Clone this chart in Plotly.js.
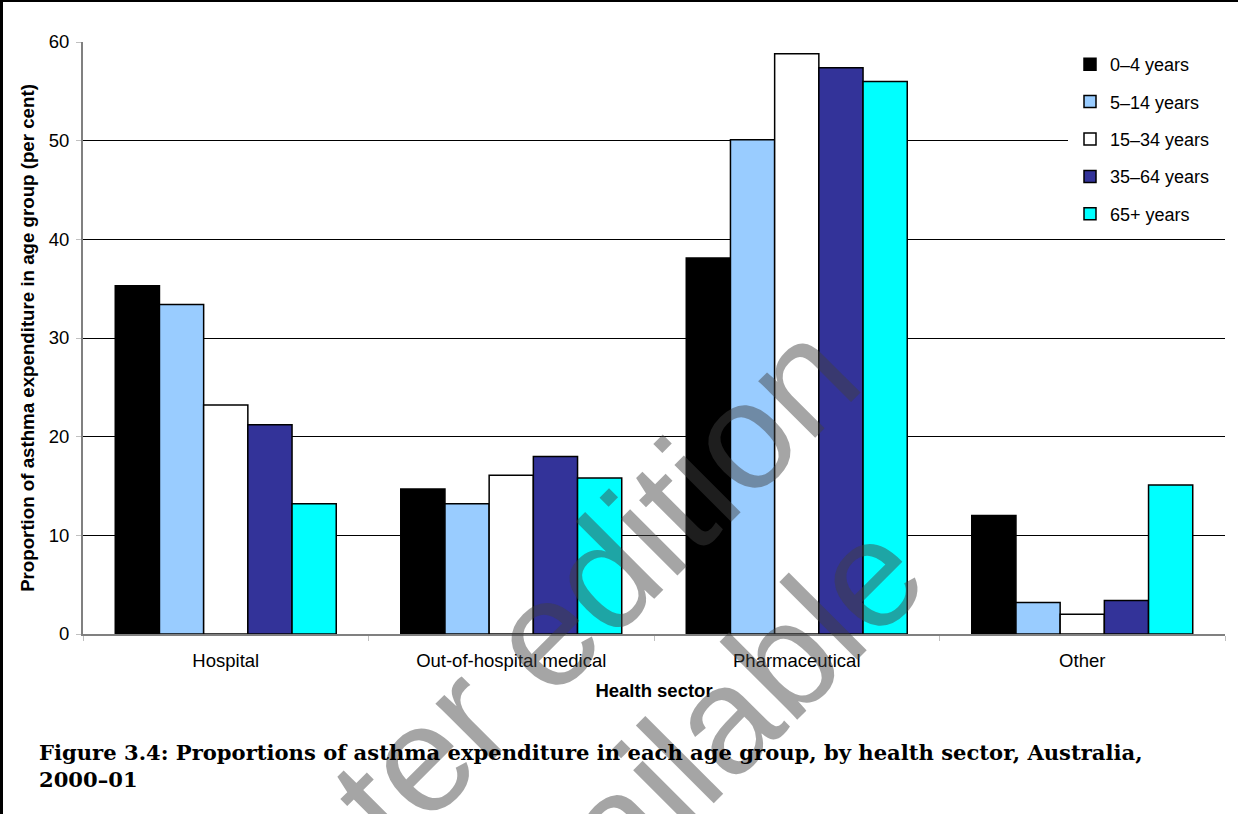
<!DOCTYPE html>
<html>
<head>
<meta charset="utf-8">
<script src="https://cdn.plot.ly/plotly-3.0.1.min.js"></script>
<style>
html,body{margin:0;padding:0;background:#fff;}
#chart{width:1238px;height:814px;}
</style>
</head>
<body>
<div id="chart"></div>
<script>
// Data
var sectors = ["Hospital", "Out-of-hospital medical", "Pharmaceutical", "Other"];
var ageGroups = ["0\u20134 years", "5\u201314 years", "15\u201334 years", "35\u201364 years", "65+ years"];
var age0_4   = [35.3, 14.7, 38.1, 12.0];
var age5_14  = [33.4, 13.2, 50.1, 3.2];
var age15_34 = [23.2, 16.1, 58.8, 2.0];
var age35_64 = [21.2, 18.0, 57.4, 3.4];
var age65    = [13.2, 15.8, 56.0, 15.1];
var seriesValues = [age0_4, age5_14, age15_34, age35_64, age65];
var colors = ["#000000", "#99CCFF", "#FFFFFF", "#333399", "#00FFFF"];

var W = 1238, H = 814, L = 83, R = 13, T = 42, B = 180;
var pw = W - L - R, ph = H - T - B;
function px(x){ return (x - L) / pw; }
function py(y){ return (H - B - y) / ph; }

var traces = seriesValues.map(function(vals, i){
  return {
    type: "bar",
    name: ageGroups[i],
    x: sectors,
    y: vals,
    legendgroup: "g" + i,
    marker: {color: colors[i], line: {color: "#000000", width: 1.5}},
    hoverinfo: "x+y+name"
  };
});

var sans = "Liberation Sans, Arial, sans-serif";
var layout = {
  width: W, height: H,
  margin: {l: L, r: R, t: T, b: B},
  paper_bgcolor: "#ffffff",
  plot_bgcolor: "#ffffff",
  barmode: "group",
  bargap: 0.226,
  bargroupgap: 0,
  font: {family: sans, size: 18.5, color: "#000"},
  xaxis: {
    type: "category",
    showline: true, linecolor: "#808080", linewidth: 2,
    ticks: "outside", tickson: "boundaries", ticklen: 5, tickcolor: "#c0c0c0", tickwidth: 1,
    ticklabelstandoff: 9,
    showgrid: false,
    tickfont: {size: 18.5},
    title: {text: "<b>Health sector</b>", font: {size: 18.5}, standoff: 14}
  },
  yaxis: {
    range: [0, 60], dtick: 10,
    showline: true, linecolor: "#808080", linewidth: 2,
    ticks: "outside", ticklen: 5, tickcolor: "#c0c0c0", tickwidth: 1,
    ticklabelstandoff: 3,
    showgrid: true, gridcolor: "#000000", gridwidth: 1,
    zeroline: false,
    tickfont: {size: 18.5},
    title: {text: "<b>Proportion of asthma expenditure in age group (per cent)</b>", font: {size: 18.7}, standoff: 9}
  },
  legend: {
    x: px(1070), xanchor: "left",
    y: py(46), yanchor: "top",
    bgcolor: "#ffffff",
    traceorder: "grouped",
    tracegroupgap: 11,
    itemwidth: 30,
    font: {size: 18},
    itemclick: false
  },
  showlegend: true,
  shapes: [
    {type: "rect", xref: "paper", yref: "paper", x0: px(1068), x1: px(1225), y0: py(232), y1: py(46),
     fillcolor: "#ffffff", line: {width: 0}, layer: "above"},
    {type: "line", xref: "paper", yref: "paper", x0: px(1.5), x1: px(1.5), y0: py(814), y1: py(0),
     line: {color: "#000000", width: 3}},
    {type: "line", xref: "paper", yref: "paper", x0: px(0), x1: px(1238), y0: py(1), y1: py(1),
     line: {color: "#000000", width: 2}}
  ],
  annotations: [
    {text: "Later edition", xref: "paper", yref: "paper", x: px(534), y: py(644),
     xanchor: "center", yanchor: "middle", textangle: -45, showarrow: false,
     font: {family: sans, size: 152, color: "rgba(64,64,64,0.47)"}},
    {text: "available", xref: "paper", yref: "paper", x: px(684), y: py(758),
     xanchor: "center", yanchor: "middle", textangle: -45, showarrow: false,
     font: {family: sans, size: 152, color: "rgba(64,64,64,0.47)"}},
    {text: "<b>Figure 3.4: Proportions of asthma expenditure in each age group, by health sector, Australia,<br>2000\u201301</b>",
     xref: "paper", yref: "paper", x: px(37), y: py(738), xanchor: "left", yanchor: "top", align: "left",
     showarrow: false,
     font: {family: "DejaVu Serif, serif", size: 21.1, color: "#000"}}
  ]
};

Plotly.newPlot("chart", traces, layout, {displayModeBar: false, staticPlot: true});
</script>
</body>
</html>
